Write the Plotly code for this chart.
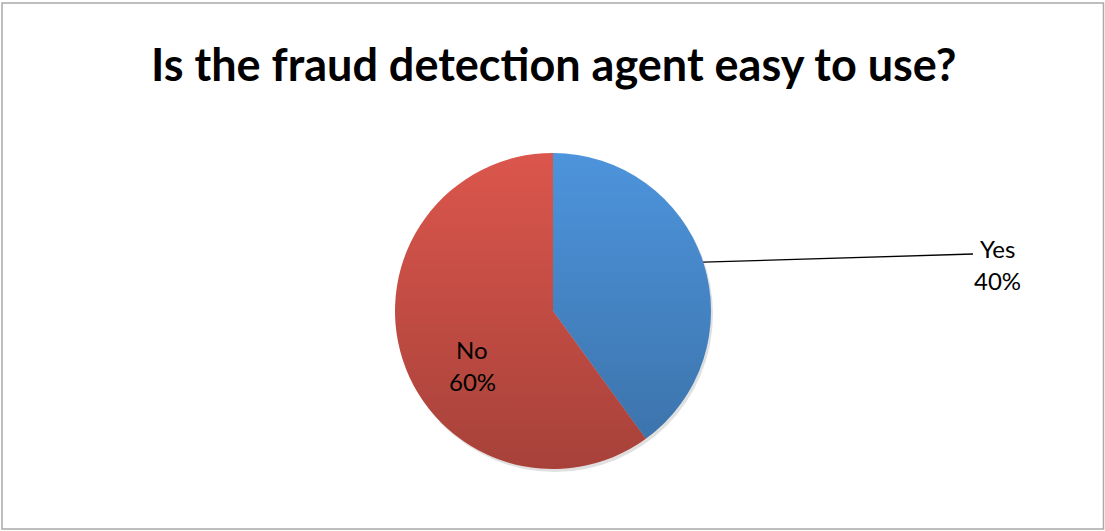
import base64
import numpy as np
import plotly.graph_objects as go

# Survey answers
categories = ["Yes", "No"]
shares = [40, 60]
slice_colors = ["#4D94DC", "#DB564C"]

W, H = 1105, 531
cx, cy, r = 553, 311, 158          # pie centre and radius (px)

fig = go.Figure()

# soft drop shadow under the pie
fig.add_trace(go.Pie(
    values=[1], marker=dict(colors=["rgba(0,0,0,0.12)"], line=dict(width=0)),
    textinfo="none", hoverinfo="skip", showlegend=False,
    domain=dict(x=[(cx - r + 2) / W, (cx + r + 2) / W],
                y=[(H - (cy + r + 3)) / H, (H - (cy - r + 3)) / H]),
))

fig.add_trace(go.Pie(
    labels=categories, values=shares, sort=False, direction="clockwise",
    rotation=0, marker=dict(colors=slice_colors, line=dict(width=0)),
    textinfo="none", showlegend=False,
    domain=dict(x=[(cx - r) / W, (cx + r) / W],
                y=[(H - (cy + r)) / H, (H - (cy - r)) / H]),
))

# vertical shading laid over the pie (lighter at top, darker at bottom)
shade_svg = (
    '<svg xmlns="http://www.w3.org/2000/svg" width="200" height="200" viewBox="0 0 200 200">'
    '<defs><linearGradient id="g" x1="0" y1="0" x2="0" y2="1">'
    '<stop offset="0" stop-color="#000" stop-opacity="0"/>'
    '<stop offset="1" stop-color="#000" stop-opacity="0.24"/>'
    '</linearGradient></defs>'
    '<circle cx="100" cy="100" r="100" fill="url(#g)"/></svg>'
)
shade_uri = "data:image/svg+xml;base64," + base64.b64encode(shade_svg.encode()).decode()

# slice label geometry
total = sum(shares)
start = 0.0
mids = []
for v in shares:
    mids.append(start + v / total * 360 / 2)
    start += v / total * 360

font = dict(family="Lato, Noto Sans, sans-serif", size=24, color="#000000")
ann = []

# "Yes" sits outside with a leader line from the slice edge
a = np.deg2rad(mids[0])
ex, ey = cx + r * np.sin(a), cy - r * np.cos(a)
lx, ly = 997, 264
line_shape = dict(type="line", xref="x", yref="y", x0=ex, y0=ey, x1=lx - 24, y1=ly - 10,
                  line=dict(color="#000000", width=1.3), layer="above")
ann.append(dict(x=lx, y=ly - 16, text=categories[0], font=font))
ann.append(dict(x=lx, y=ly + 16, text=f"{shares[0]}%", font=font))

# "No" sits inside its slice
nx, ny = 472, 365
ann.append(dict(x=nx, y=ny - 16, text=categories[1], font=font))
ann.append(dict(x=nx, y=ny + 16, text=f"{shares[1]}%", font=font))

for d in ann:
    d.update(xref="x", yref="y", showarrow=False, xanchor="center", yanchor="middle")

ann.append(dict(x=553, y=64, xref="x", yref="y", showarrow=False,
                text="<b>Is the fraud detection agent easy to use?</b>",
                font=dict(family="Lato, Noto Sans, sans-serif", size=45, color="#000000"),
                xanchor="center", yanchor="middle"))

fig.update_layout(
    width=W, height=H, margin=dict(l=0, r=0, t=0, b=0),
    paper_bgcolor="#ffffff", plot_bgcolor="rgba(0,0,0,0)",
    xaxis=dict(range=[0, W], visible=False, fixedrange=True),
    yaxis=dict(range=[H, 0], visible=False, fixedrange=True),
    annotations=ann,
    images=[dict(source=shade_uri, xref="x", yref="y", x=cx - r, y=cy - r,
                 sizex=2 * r, sizey=2 * r, xanchor="left", yanchor="top",
                 sizing="stretch", layer="above")],
    shapes=[line_shape,
            dict(type="rect", xref="x", yref="y", x0=2, y0=3, x1=1103.5, y1=529,
                 line=dict(color="#a9a9a9", width=1.5), fillcolor="rgba(0,0,0,0)")],
)

fig.write_html("out.html")
